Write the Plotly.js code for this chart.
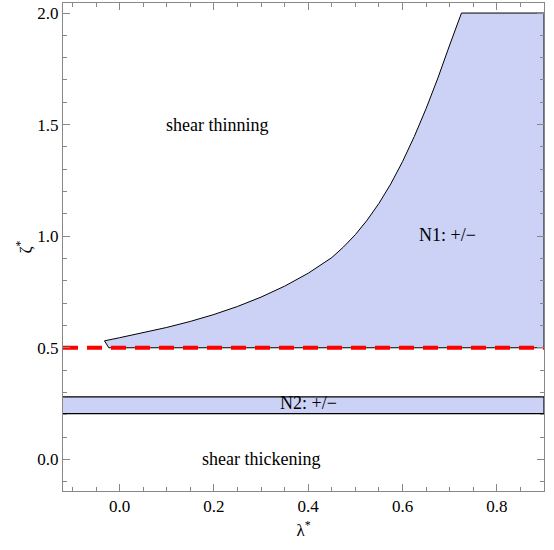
<!DOCTYPE html>
<html>
<head>
<meta charset="utf-8">
<script src="https://cdn.plot.ly/plotly-3.0.1.min.js"></script>
<style>
  html, body { margin: 0; padding: 0; background: #fff; }
  #chart { width: 554px; height: 550px; }
</style>
</head>
<body>
<div id="chart"></div>
<script>
// Boundary of the N1 sign-change region (lower-left tip up to the top edge)
const curveLambda = [-0.023, -0.032, 0.0, 0.05, 0.1, 0.15, 0.2, 0.25, 0.3, 0.35, 0.4, 0.45, 0.475, 0.5, 0.525, 0.55, 0.575, 0.6, 0.625, 0.65, 0.675, 0.7, 0.725];
const curveZeta   = [0.5, 0.531, 0.545, 0.567, 0.591, 0.618, 0.649, 0.685, 0.727, 0.776, 0.834, 0.904, 0.952, 1.007, 1.072, 1.147, 1.234, 1.334, 1.447, 1.572, 1.709, 1.857, 2.0];

// Closing corners of the N1 region
const n1CornerLambda = [0.9, 0.9];
const n1CornerZeta = [2.0, 0.5];

// N2 band
const n2Lambda = [-0.3, 0.9, 0.9, -0.3, -0.3];
const n2Zeta = [0.205, 0.205, 0.28, 0.28, 0.205];

// Separatrix at zeta = 0.5
const sepLambda = [-0.12, 0.9];
const sepZeta = [0.5, 0.5];

// Region labels
const labelText = ['shear thinning', 'N1: +/\u2212', 'N2: +/\u2212', 'shear thickening'];
const labelLambda = [0.206, 0.696, 0.40, 0.30];
const labelZeta = [1.497, 1.004, 0.252, 0.0];

const fillColor = 'rgb(203, 210, 245)';
const serif = 'Liberation Serif';

const n1 = {
    x: curveLambda.concat(n1CornerLambda, [curveLambda[0]]),
    y: curveZeta.concat(n1CornerZeta, [curveZeta[0]]),
    type: 'scatter',
    mode: 'lines',
    fill: 'toself',
    fillcolor: fillColor,
    line: { color: '#000', width: 1 },
    hoverinfo: 'skip'
};

const n2 = {
    x: n2Lambda,
    y: n2Zeta,
    type: 'scatter',
    mode: 'lines',
    fill: 'toself',
    fillcolor: fillColor,
    line: { color: '#000', width: 1.2 },
    hoverinfo: 'skip'
};

const sep = {
    x: sepLambda,
    y: sepZeta,
    type: 'scatter',
    mode: 'lines',
    line: { color: 'rgb(255, 0, 0)', width: 4, dash: '15px,9px' },
    hoverinfo: 'skip'
};

const axisCommon = {
    showgrid: false,
    zeroline: false,
    showline: true,
    linecolor: '#888',
    linewidth: 1,
    mirror: 'allticks',
    ticks: 'inside',
    ticklen: 7,
    tickcolor: '#888',
    tickfont: { family: serif, size: 17, color: '#000' }
};

const layout = {
    width: 554,
    height: 550,
    margin: { l: 63, r: 10, t: 3, b: 59 },
    paper_bgcolor: '#fff',
    plot_bgcolor: '#fff',
    showlegend: false,
    font: { family: serif, size: 17, color: '#000' },
    xaxis: Object.assign({}, axisCommon, {
        range: [-0.12, 0.9],
        tick0: 0,
        dtick: 0.2,
        tickformat: '.1f',
        minor: { ticks: 'inside', ticklen: 4, dtick: 0.05, tick0: 0, tickcolor: '#888' },
        title: { text: '\u03bb<sup>*</sup>', font: { family: serif, size: 17, color: '#000' }, standoff: 8 }
    }),
    yaxis: Object.assign({}, axisCommon, {
        range: [-0.142, 2.045],
        tick0: 0,
        dtick: 0.5,
        tickformat: '.1f',
        minor: { ticks: 'inside', ticklen: 4, dtick: 0.1, tick0: 0, tickcolor: '#888' },
        title: { text: '\u03b6<sup>*</sup>', font: { family: serif, size: 17, color: '#000' }, standoff: 1 }
    }),
    annotations: labelText.map((t, i) => ({
        x: labelLambda[i],
        y: labelZeta[i],
        text: t,
        showarrow: false,
        font: { family: serif, size: 18, color: '#000' }
    }))
};

Plotly.newPlot('chart', [n2, n1, sep], layout, { displayModeBar: false, staticPlot: true });
</script>
</body>
</html>
